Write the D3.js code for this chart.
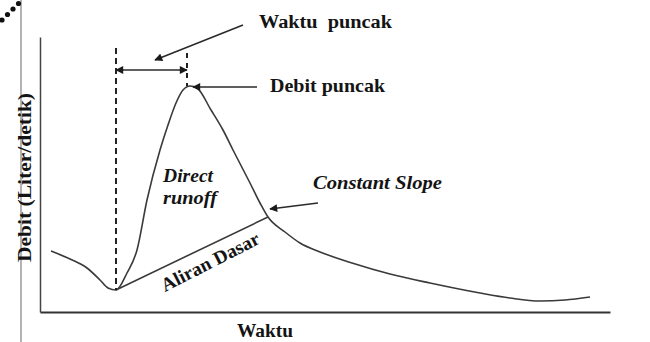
<!DOCTYPE html>
<html><head><meta charset="utf-8">
<script src="https://cdn.jsdelivr.net/npm/d3@7"></script>
<style>
html,body{margin:0;padding:0;background:#fff;}
svg{display:block;}
text{font-family:"Liberation Serif","Times New Roman",serif;font-weight:bold;fill:#141414;}
</style></head>
<body>
<script>
// Hydrograph (time units, discharge units)
const time      = [1.1, 3.0, 4.7, 6.0, 6.8, 7.6, 8.7, 9.7, 10.7, 12.0, 12.8, 13.6, 14.3, 15.0, 15.7, 17.1, 18.3, 19.3, 21.0, 22.0, 22.8, 24.5, 26.0, 28.0, 31.2, 35.0, 39.0, 44.0, 47.0, 50.0, 52.5, 55.0];
const discharge = [6.1, 5.3, 4.4, 3.2, 2.4, 2.2, 3.9, 6.2, 11.2, 16.2, 18.7, 20.9, 22.2, 22.6, 22.4, 20.2, 18.2, 16.2, 12.9, 10.9, 9.5, 8.0, 6.9, 6.0, 4.9, 3.8, 2.9, 1.9, 1.4, 1.1, 1.2, 1.5];
// Baseflow separation line (start of rise -> constant slope point)
const baseTime      = [7.6, 22.8];
const baseDischarge = [2.2, 9.5];
// Key instants
const riseStart = 7.6;
const peakTime  = 14.7;
const peakQ     = 22.6;
const labels = ["Waktu  puncak", "Debit puncak", "Direct", "runoff", "Constant Slope", "Aliran Dasar", "Debit (Liter/detik)", "Waktu"];

const W = 650, H = 342;
const svg = d3.select("body").append("svg").attr("width", W).attr("height", H);

const x = d3.scaleLinear().domain([0, 57]).range([40, 610]);
const y = d3.scaleLinear().domain([0, 27.5]).range([312, 37]);

// markers
const defs = svg.append("defs");
defs.append("marker").attr("id", "ah").attr("viewBox", "0 0 10 10")
  .attr("refX", 9).attr("refY", 5).attr("markerWidth", 10).attr("markerHeight", 8)
  .attr("markerUnits", "userSpaceOnUse").attr("orient", "auto-start-reverse")
  .append("path").attr("d", "M0,0 L10,5 L0,10 Z").attr("fill", "#1a1a1a");

// frame decoration
svg.append("line").attr("x1", 21).attr("x2", 21).attr("y1", 0).attr("y2", H)
  .attr("stroke", "#9a9a9a").attr("stroke-width", 1.5);
svg.selectAll("circle.dot").data([[2,20],[7.5,14.5],[13,9],[18.5,3.5]]).enter()
  .append("circle").attr("cx", d => d[0]).attr("cy", d => d[1]).attr("r", 2.6).attr("fill", "#111");

// axes (no ticks)
svg.append("g").attr("transform", `translate(0,${y(0)})`)
  .call(d3.axisBottom(x).tickValues([]).tickSizeOuter(0))
  .select(".domain").attr("stroke", "#333").attr("stroke-width", 2);
svg.append("g").attr("transform", `translate(${x(0)},0)`)
  .call(d3.axisLeft(y).tickValues([]).tickSizeOuter(0))
  .select(".domain").attr("stroke", "#444").attr("stroke-width", 1.5);

// hydrograph
const pts = time.map((t, i) => [t, discharge[i]]);
const line = d3.line().x(d => x(d[0])).y(d => y(d[1])).curve(d3.curveMonotoneX);
svg.append("path").attr("d", line(pts)).attr("fill", "none")
  .attr("stroke", "#3a3a3a").attr("stroke-width", 1.6);

// baseflow
const bpts = baseTime.map((t, i) => [t, baseDischarge[i]]);
svg.append("path").attr("d", d3.line().x(d => x(d[0])).y(d => y(d[1]))(bpts))
  .attr("fill", "none").attr("stroke", "#3a3a3a").attr("stroke-width", 1.6);

// dashed verticals
svg.append("line").attr("x1", x(riseStart)).attr("x2", x(riseStart))
  .attr("y1", 48).attr("y2", y(baseDischarge[0]))
  .attr("stroke", "#222").attr("stroke-width", 2).attr("stroke-dasharray", "6,4");
svg.append("line").attr("x1", x(peakTime)).attr("x2", x(peakTime))
  .attr("y1", 53).attr("y2", y(peakQ))
  .attr("stroke", "#222").attr("stroke-width", 2).attr("stroke-dasharray", "5,5");

// arrows
function arrow(x1, y1, x2, y2, both) {
  const l = svg.append("line").attr("x1", x1).attr("y1", y1).attr("x2", x2).attr("y2", y2)
    .attr("stroke", "#2a2a2a").attr("stroke-width", 1.6).attr("marker-end", "url(#ah)");
  if (both) l.attr("marker-start", "url(#ah)");
}
arrow(x(riseStart), 70, x(peakTime), 70, true);
arrow(243, 25, 155, 60);
arrow(257, y(peakQ) + 1, x(peakTime) + 6, y(peakQ) + 1);
arrow(318, 203, x(baseTime[1]) + 2, y(baseDischarge[1]) - 8);

// labels
function label(txt, px, py, len, opts = {}) {
  const t = svg.append("text").attr("x", px).attr("y", py).text(txt)
    .attr("font-size", opts.size || 19)
    .attr("textLength", len).attr("lengthAdjust", "spacingAndGlyphs")
    .style("white-space", "pre");
  if (opts.italic) t.attr("font-style", "italic");
  if (opts.rotate !== undefined) t.attr("transform", `rotate(${opts.rotate},${px},${py})`);
  return t;
}
label(labels[0], 259, 28, 133, {size: 18});
label(labels[1], 270, 92, 115, {size: 19});
label(labels[2], 163, 182, 50, {size: 18, italic: true});
label(labels[3], 163, 204, 54, {size: 18, italic: true});
label(labels[4], 313, 189, 129, {size: 18, italic: true});
label(labels[5], 165, 292, 108, {size: 19, rotate: -27});
label(labels[6], 31, 262, 169, {size: 19, rotate: -90});
label(labels[7], 237, 337, 56, {size: 19});
</script>
</body></html>
